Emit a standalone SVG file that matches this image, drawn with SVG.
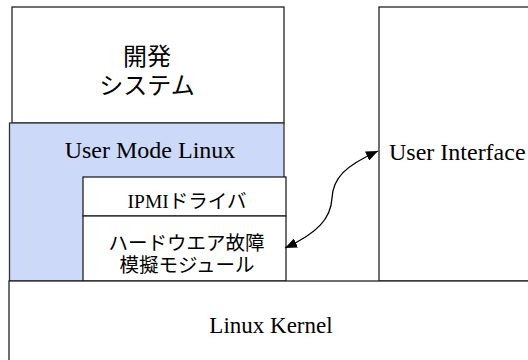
<svg xmlns="http://www.w3.org/2000/svg" width="528" height="360" viewBox="0 0 528 360">
<style>
.box{fill:#ffffff;stroke:#222222;stroke-width:1.3}
.blue{fill:#ccd9f8;stroke:#333333;stroke-width:1.3}
.jp{font-family:"Noto Sans CJK JP","Noto Sans",sans-serif;fill:#000000;text-anchor:middle}
.en{font-family:"Liberation Serif","Noto Sans CJK JP",serif;fill:#000000;text-anchor:middle}
.conn{fill:none;stroke:#000000;stroke-width:1.3}
</style>
<defs>
<marker id="ah" markerUnits="userSpaceOnUse" viewBox="0 0 12 10" refX="12" refY="5" markerWidth="12" markerHeight="10" orient="auto-start-reverse">
<path d="M0,0 L12,5 L0,10 z" fill="#000000"/>
</marker>
</defs>
<rect width="528" height="360" fill="#ffffff"/>
<g id="dev-system">
<rect class="box" x="12" y="7" width="272" height="116"/>
<text class="jp" font-size="24"><tspan x="147" y="65">開発</tspan><tspan x="147" y="94">システム</tspan></text>
</g>
<g id="user-mode-linux">
<rect class="blue" x="9.5" y="123" width="274.5" height="158"/>
<text class="en" x="150" y="158" font-size="24">User Mode Linux</text>
</g>
<g id="ipmi-driver">
<rect class="box" x="83" y="177" width="203" height="39"/>
<text class="en" x="187" y="208" font-size="19.5">IPMIドライバ</text>
</g>
<g id="hw-fault-module">
<rect class="box" x="83" y="216" width="203" height="65"/>
<text class="jp" font-size="19.5"><tspan x="186.5" y="250">ハードウエア故障</tspan><tspan x="187" y="272">模擬モジュール</tspan></text>
</g>
<g id="user-interface">
<rect class="box" x="379" y="7" width="160" height="274"/>
<text class="en" x="389" y="160" font-size="24" style="text-anchor:start">User Interface</text>
</g>
<g id="linux-kernel">
<rect class="box" x="9" y="281" width="530" height="90"/>
<text class="en" x="271" y="333" font-size="23">Linux Kernel</text>
</g>
<g id="connectors">
<path class="conn" d="M 285,248 C 318,233 331,218 332,198 C 333,178 345,166 378,151" marker-start="url(#ah)" marker-end="url(#ah)"/>
</g>
</svg>
